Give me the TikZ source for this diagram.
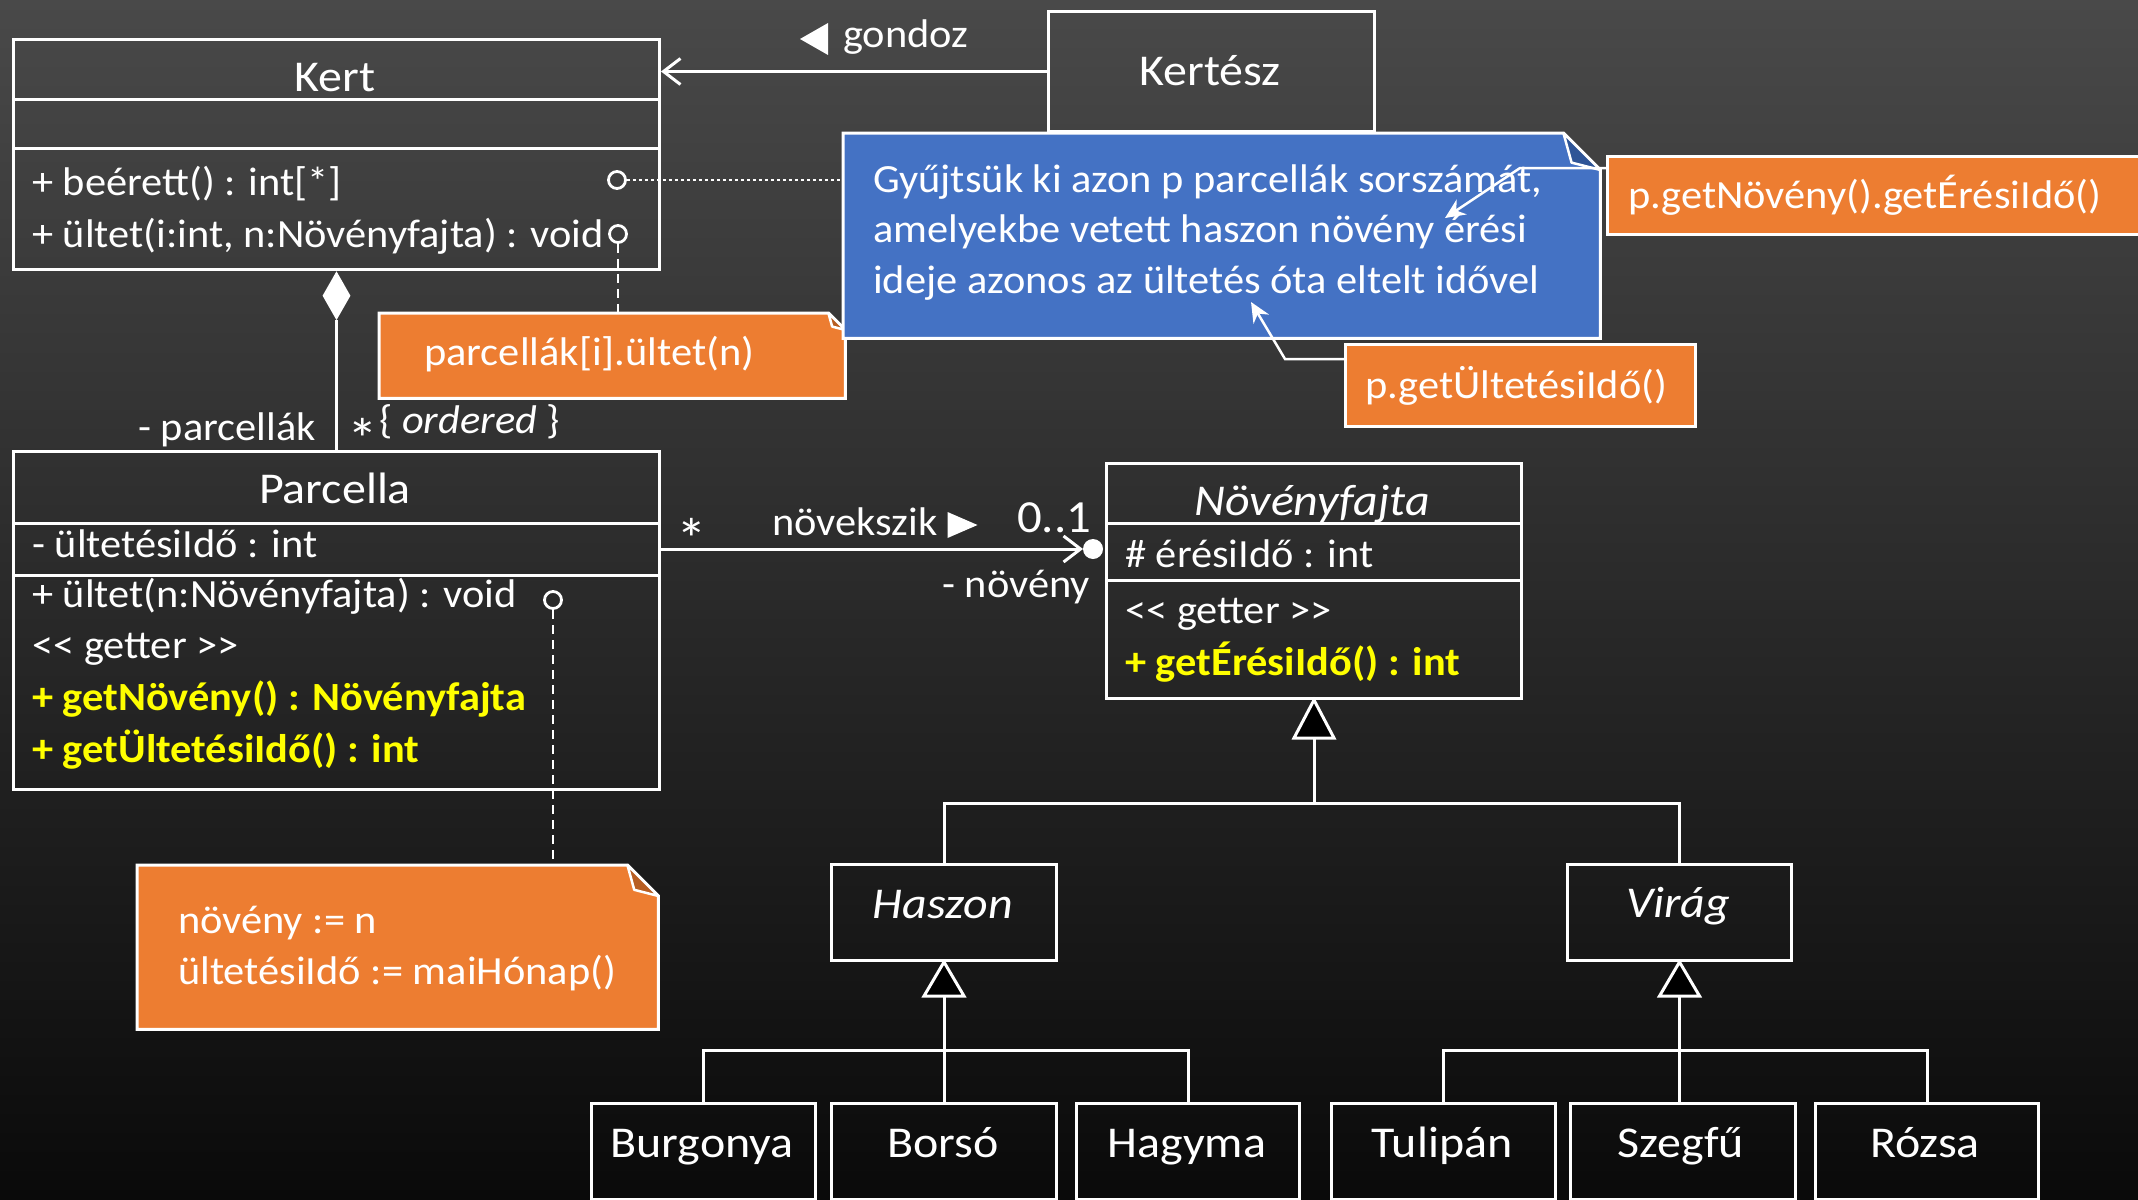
\documentclass[tikz,border=0pt]{standalone}
\usepackage{fontspec}
\setmainfont{Carlito}[FakeStretch=1.06]
\newfontfamily\namefam{Carlito}[FakeStretch=1.09]
\usetikzlibrary{arrows.meta,shapes.geometric}

\definecolor{bgtop}{HTML}{494949}
\definecolor{bgbottom}{HTML}{0A0A0A}
\definecolor{noteorange}{HTML}{ED7D31}
\definecolor{flaporange}{HTML}{B85E22}
\definecolor{noteblue}{HTML}{4472C4}
\definecolor{flapblue}{HTML}{2F5597}
\definecolor{gettercol}{HTML}{FFFF00}

\newcommand{\namefont}{\namefam\fontsize{44}{52}\selectfont}
\newcommand{\memberfont}{\fontsize{40}{50}\selectfont}
\newcommand{\multfont}{\fontsize{46}{55}\selectfont}
\newcommand{\starfont}{\fontsize{58}{60}\selectfont}

% note outline with a folded top-right corner, drawn around an empty frame node
\newcommand{\foldnote}[4]{%
  \filldraw[fill=#3, draw=white, line width=3pt, line join=miter]
    (#1.north west) -- ([xshift=-#2]#1.north east) -- ([yshift=-#2]#1.north east)
    -- (#1.south east) -- (#1.south west) -- cycle;
  \filldraw[fill=#4, draw=white, line width=2.5pt, line join=round]
    ([xshift=-#2]#1.north east) -- ([xshift=-0.78*#2, yshift=-0.8*#2]#1.north east)
    -- ([yshift=-#2]#1.north east) -- cycle;
}

\begin{document}
\begin{tikzpicture}[x=1pt,y=-1pt,
  frame/.style={draw=white, line width=3pt, inner sep=0pt, anchor=north west},
  plain/.style={inner sep=0pt, anchor=north west},
  member/.style={inner sep=0pt, anchor=base west, text=white, font=\memberfont},
  getter/.style={member, text=gettercol, font=\memberfont\bfseries},
  cname/.style={inner sep=0pt, anchor=base, text=white, font=\namefont},
  multstyle/.style={inner sep=0pt, anchor=base west, text=white, font=\starfont},
  wline/.style={draw=white, line width=3pt},
  hook/.style={circle, draw=white, line width=2.8pt, minimum size=17pt, inner sep=0pt},
  dotline/.style={draw=white, line width=1.5pt, dash pattern=on 3pt off 3pt},
  dashline/.style={draw=white, line width=1.5pt, dash pattern=on 9pt off 6pt},
  openhead/.style={-{Straight Barb[length=17pt,width=26pt]}},
  solidhead/.style={-{Stealth[length=20pt,width=18pt]}},
  genbox/.style={fill=black, draw=white, line width=3pt, line join=miter},
]
\useasboundingbox (0,0) rectangle (2138,1199);
\shade[top color=bgtop, bottom color=bgbottom] (0,0) rectangle (2138,1199);

% ---------- Kert ----------
\node[frame, minimum width=646pt, minimum height=230pt] (kert) at (12,38) {};
\draw[wline] ([yshift=-61pt]kert.north west) -- ([yshift=-61pt]kert.north east);
\draw[wline] ([yshift=-110pt]kert.north west) -- ([yshift=-110pt]kert.north east);
\node[cname] (kertname) at (335,92) {Kert};
\node[member] (kertm1) at (32,195) {+ beérett() : int[*]};
\node[member] (kertm2) at (32,247) {+ ültet(i:int, n:Növényfajta) : void};
\node[hook] (kerth1) at (617,180) {};
\node[hook] (kerth2) at (618,234) {};

% ---------- Kertész ----------
\node[frame, minimum width=326pt, minimum height=120pt] (kertesz) at (1047,10) {};
\node[cname] (kerteszname) at (1210,85) {Kertész};

% ---------- Parcella ----------
\node[frame, minimum width=646pt, minimum height=338pt] (parcella) at (12,450) {};
\draw[wline] ([yshift=-73pt]parcella.north west) -- ([yshift=-73pt]parcella.north east);
\draw[wline] ([yshift=-125pt]parcella.north west) -- ([yshift=-125pt]parcella.north east);
\node[cname] (parcellaname) at (335,503) {Parcella};
\node[member] (parca1) at (32,557) {- ültetésiIdő : int};
\node[member] (parcm1) at (32,607) {+ ültet(n:Növényfajta) : void};
\node[hook] (parch) at (553,600) {};
\node[member] (parcst) at (32,658) {<\kern0pt< getter >\kern0pt>};
\node[getter] (parcg1) at (32,710) {+ getNövény() : Növényfajta};
\node[getter] (parcg2) at (32,762) {+ getÜltetésiIdő() : int};

% ---------- Növényfajta ----------
\node[frame, minimum width=415pt, minimum height=235pt] (novfaj) at (1105,462) {};
\draw[wline] ([yshift=-61pt]novfaj.north west) -- ([yshift=-61pt]novfaj.north east);
\draw[wline] ([yshift=-118pt]novfaj.north west) -- ([yshift=-118pt]novfaj.north east);
\node[cname, font=\namefont\itshape] (novfajname) at (1312,515) {Növényfajta};
\node[member] (nova1) at (1125,567) {\# érésiIdő : int};
\node[member] (novst) at (1125,623) {<\kern0pt< getter >\kern0pt>};
\node[getter] (novg1) at (1125,675) {+ getÉrésiIdő() : int};

% ---------- subclasses ----------
\node[frame, minimum width=225pt, minimum height=96pt] (haszon) at (830,863) {};
\node[cname, font=\namefont\itshape] (haszonname) at (943,918) {Haszon};
\node[frame, minimum width=224pt, minimum height=96pt] (virag) at (1566,863) {};
\node[cname, font=\namefont\itshape] (viragname) at (1678,917) {Virág};

\node[frame, minimum width=224pt, minimum height=96pt] (burgonya) at (590,1102) {};
\node[cname] (burgonyaname) at (702,1157) {Burgonya};
\node[frame, minimum width=225pt, minimum height=96pt] (borso) at (830,1102) {};
\node[cname] (borsoname) at (943,1157) {Borsó};
\node[frame, minimum width=223pt, minimum height=96pt] (hagyma) at (1075,1102) {};
\node[cname] (hagymaname) at (1187,1157) {Hagyma};
\node[frame, minimum width=224pt, minimum height=96pt] (tulipan) at (1330,1102) {};
\node[cname] (tulipanname) at (1442,1157) {Tulipán};
\node[frame, minimum width=225pt, minimum height=96pt] (szegfu) at (1569,1102) {};
\node[cname] (szegfuname) at (1681,1157) {Szegfű};
\node[frame, minimum width=223pt, minimum height=96pt] (rozsa) at (1814,1102) {};
\node[cname] (rozsaname) at (1925,1157) {Rózsa};

% ---------- notes ----------
\node[plain, minimum width=466pt, minimum height=85pt] (callnote) at (379,313) {};
\foldnote{callnote}{17pt}{noteorange}{flaporange}
\node[member] (calltext) at (424,365) {parcellák[i].ültet(n)};

\node[plain, minimum width=757pt, minimum height=205pt] (task) at (843,133) {};
\foldnote{task}{37pt}{noteblue}{flapblue}
\node[member] (task1) at (873,192) {Gyűjtsük ki azon p parcellák sorszámát,};
\node[member] (task2) at (873,242) {amelyekbe vetett haszon növény érési};
\node[member] (task3) at (873,293) {ideje azonos az ültetés óta eltelt idővel};

\node[plain, fill=noteorange, draw=white, line width=3pt, minimum width=540pt, minimum height=78pt] (getnov) at (1606,155) {};
\node[member] (getnovtext) at (1628,208) {p.getNövény().getÉrésiIdő()};

\node[plain, fill=noteorange, draw=white, line width=3pt, minimum width=350pt, minimum height=82pt] (getult) at (1344,343) {};
\node[member] (getulttext) at (1365,398) {p.getÜltetésiIdő()};

\node[plain, minimum width=521pt, minimum height=164pt] (ultnote) at (137,865) {};
\foldnote{ultnote}{31pt}{noteorange}{flaporange}
\node[member] (ult1) at (178,933) {növény := n};
\node[member] (ult2) at (178,984) {ültetésiIdő := maiHónap()};

% ---------- note anchors ----------
\draw[dotline] (kerth1.east) -- (kerth1.east -| task.west);
\draw[dashline] (kerth2.south) -- (kerth2.south |- callnote.north);
\draw[dashline] (parch.south) -- (parch.south |- ultnote.north);

\coordinate (tipA) at (1445,218);
\draw[wline, line width=2.5pt, line join=miter, solidhead] ([yshift=-13pt]getnov.north west) -- ++(-86,0) -- (tipA);
\coordinate (tipB) at (1251,302);
\draw[wline, line width=2.5pt, line join=miter, solidhead] ([yshift=-16pt]getult.north west) -- ++(-59,0) -- (tipB);

% ---------- gondoz ----------
\draw[wline, openhead] (kertesz.west) -- (kertesz.west -| kert.east);
\node[member] (gondoz) at (843,48) {gondoz};
\fill[white] (gondoz.base west) ++(-15,-25) -- ++(0,32) -- ++(-28,-16) -- cycle;

% ---------- composition Kert - Parcella ----------
\node[diamond, fill=white, inner sep=0pt, minimum width=28pt, minimum height=49pt, anchor=north] (comp) at (kert.south) {};
\draw[wline] (comp.south) -- (comp.south |- parcella.north);
\node[member, anchor=base east] (roleparc) at (316,440) {- parcellák};
\node[multstyle] (multparc) at (347,459) {*};
\node[member] (ordered) at (379,433) {\{ \textit{ordered} \}};

% ---------- association Parcella -> Növényfajta ----------
\coordinate (astart) at ([yshift=-99pt]parcella.north east);
\path (astart -| novfaj.west) ++(-12,0) coordinate (adot);
\fill[white] (adot) circle[radius=10pt];
\draw[wline, openhead] (astart) -- ([xshift=-10pt]adot);
\node[multstyle] (multstar) at (676,559) {*};
\node[member] (grows) at (772,535) {növekszik};
\fill[white] (grows.base east) ++(10,-23) -- ++(0,26) -- ++(30,-13) -- cycle;
\node[member, font=\multfont] (multone) at (1017,532) {0..1};
\node[member, anchor=base east] (rolenov) at (1090,597) {- növény};

% ---------- generalisations ----------
\path (novfaj.south) ++(0,38) coordinate (nbase) ++(0,65) coordinate (njoin);
\draw[wline] (nbase) -- (njoin);
\draw[wline] (haszon.north) |- (njoin) -| (virag.north);
\filldraw[genbox] (novfaj.south) -- ++(20,38) -- ++(-40,0) -- cycle;

\path (haszon.south) ++(0,34) coordinate (hbase) ++(0,54) coordinate (hjoin);
\draw[wline] (hbase) -- (hbase |- borso.north);
\draw[wline] (burgonya.north) |- (hjoin) -| (hagyma.north);
\filldraw[genbox] (haszon.south) -- ++(20,34) -- ++(-40,0) -- cycle;

\path (virag.south) ++(0,34) coordinate (vbase) ++(0,54) coordinate (vjoin);
\draw[wline] (vbase) -- (vbase |- szegfu.north);
\draw[wline] (tulipan.north) |- (vjoin) -| (rozsa.north);
\filldraw[genbox] (virag.south) -- ++(20,34) -- ++(-40,0) -- cycle;
\end{tikzpicture}
\end{document}
